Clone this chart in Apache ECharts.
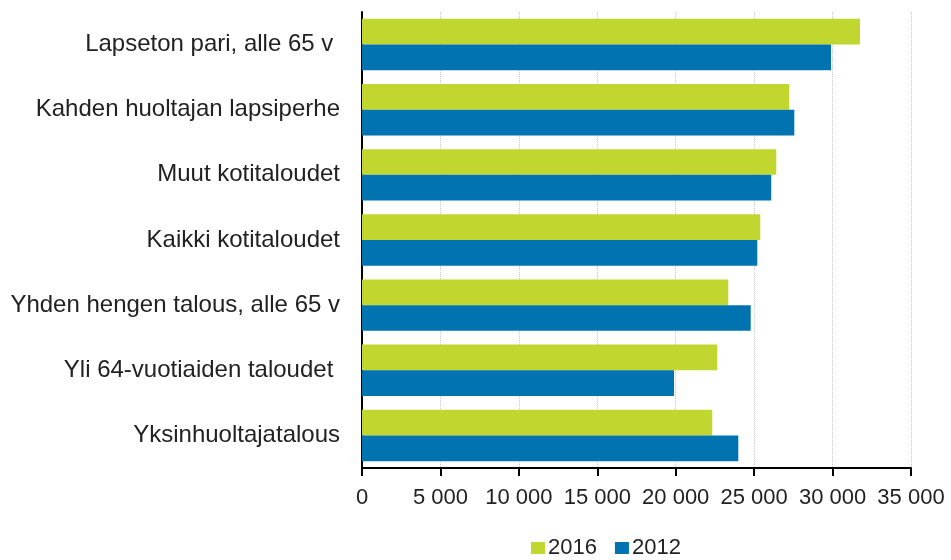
<!DOCTYPE html>
<html>
<head>
<meta charset="utf-8">
<script src="https://cdn.jsdelivr.net/npm/echarts@6/dist/echarts.min.js"></script>
<style>
  html, body { margin: 0; padding: 0; background: #fff; }
  #chart { width: 951px; height: 560px; }
</style>
</head>
<body>
<div id="chart"></div>
<script>
// kategoriat ylhäältä alas
const categories = [
  'Lapseton pari, alle 65 v ',
  'Kahden huoltajan lapsiperhe',
  'Muut kotitaloudet',
  'Kaikki kotitaloudet',
  'Yhden hengen talous, alle 65 v',
  'Yli 64-vuotiaiden taloudet ',
  'Yksinhuoltajatalous'
];
const values2016 = [31750, 27240, 26410, 25390, 23350, 22650, 22330];
const values2012 = [29900, 27560, 26090, 25200, 24780, 19890, 23990];

const chart = echarts.init(document.getElementById('chart'));

const option = {
  animation: false,
  textStyle: { fontFamily: 'Liberation Sans, Arial, sans-serif' },
  legend: {
    left: 531,
    top: 537,
    padding: 0,
    itemWidth: 14,
    itemHeight: 12,
    itemGap: 18,
    icon: 'rect',
    textStyle: { fontSize: 22, color: '#222', padding: [0, 0, 0, -2] },
    data: ['2016', '2012']
  },
  grid: {
    left: 362,
    right: 40,
    top: 12,
    bottom: 92
  },
  xAxis: {
    type: 'value',
    min: 0,
    max: 35000,
    interval: 5000,
    axisLine: { show: true, lineStyle: { color: '#000', width: 2 } },
    axisTick: { show: true, length: 8, lineStyle: { color: '#000', width: 2 } },
    axisLabel: {
      fontSize: 22,
      color: '#222',
      margin: 19,
      formatter: (v) => String(v).replace(/\B(?=(\d{3})+(?!\d))/g, ' ')
    },
    splitLine: { show: true, lineStyle: { color: '#c8c8c8', type: 'dotted', width: 1 } }
  },
  yAxis: {
    type: 'category',
    inverse: true,
    data: categories,
    axisLine: { show: true, lineStyle: { color: '#000', width: 2 } },
    axisTick: { show: false },
    axisLabel: { fontSize: 24, color: '#222', margin: 22 }
  },
  series: [
    {
      name: '2016',
      type: 'bar',
      data: values2016,
      barGap: '0%',
      barCategoryGap: '21%',
      itemStyle: { color: '#c1d72f' }
    },
    {
      name: '2012',
      type: 'bar',
      data: values2012,
      itemStyle: { color: '#0073b0' }
    }
  ]
};

chart.setOption(option);
</script>
</body>
</html>
